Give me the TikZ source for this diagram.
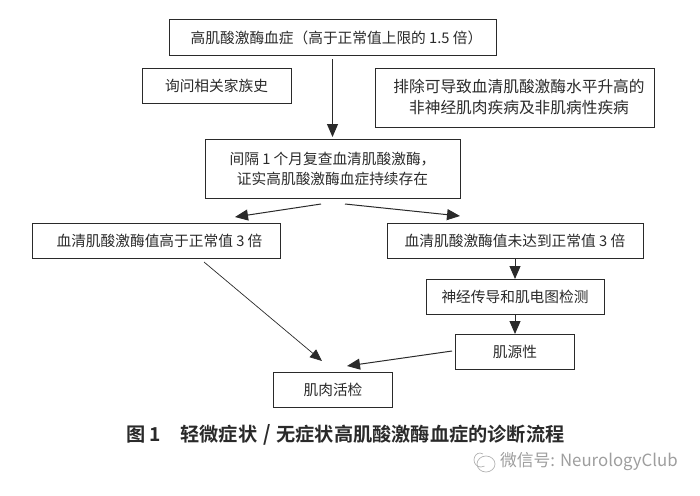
\documentclass[tikz,border=0pt]{standalone}
\usepackage{fontspec}
\setmainfont{Noto Sans CJK SC}[Scale=1]
\newfontfamily\cjkbold{Noto Sans CJK SC Bold}
\usetikzlibrary{arrows.meta}
\definecolor{ink}{HTML}{2A2A2A}
\tikzset{
  flowbox/.style={draw=ink,line width=1pt,rectangle,text=ink,font=\fontsize{14.7}{20}\selectfont,align=center,inner sep=0pt},
  flowarrow/.style={draw=ink,line width=1pt,-{Triangle[length=13pt,width=11pt]}},
  thinarrow/.style={draw=ink,line width=0.7pt,-{Triangle[length=12pt,width=10pt]}},
}
\begin{document}
\begin{tikzpicture}[x=1pt,y=-1pt]
\useasboundingbox (0,0) rectangle (700,495);
\node[flowbox,minimum width=327pt,minimum height=35pt] (top) at (332.5,37.5) {\hspace*{8pt}高肌酸激酶血症（高于正常值上限的 1.5 倍）};
\node[flowbox,minimum width=149pt,minimum height=35pt] (hist) at (216.5,85.5) {询问相关家族史};
\node[flowbox,minimum width=279pt,minimum height=59pt,font=\fontsize{15.7}{21}\selectfont] (excl) at (514.5,97.5) {\hspace*{9pt}排除可导致血清肌酸激酶水平升高的\\\hspace*{9pt}非神经肌肉疾病及非肌病性疾病};
\node[flowbox,minimum width=255pt,minimum height=59pt] (recheck) at (332.5,168.5) {间隔 1 个月复查血清肌酸激酶，\\证实高肌酸激酶血症持续存在};
\node[flowbox,minimum width=248pt,minimum height=35pt] (high) at (156,240.5) {\hspace*{7pt}血清肌酸激酶值高于正常值 3 倍};
\node[flowbox,minimum width=256pt,minimum height=35pt] (low) at (515,240.5) {血清肌酸激酶值未达到正常值 3 倍};
\node[flowbox,minimum width=178pt,minimum height=35pt] (emg) at (515,297) {神经传导和肌电图检测};
\node[flowbox,minimum width=119pt,minimum height=35pt] (myo) at (515,352) {肌源性};
\node[flowbox,minimum width=119pt,minimum height=35pt] (biopsy) at (333,390) {肌肉活检};
\coordinate (a1) at (332.5,59);
\coordinate (a2) at (332.5,137);
\draw[flowarrow] (a1) -- (a2);
\coordinate (b1) at (321,204);
\coordinate (b2) at (235,217);
\draw[flowarrow] (b1) -- (b2);
\coordinate (c1) at (345,204);
\coordinate (c2) at (460,216);
\draw[flowarrow] (c1) -- (c2);
\coordinate (d1) at (204,262);
\coordinate (d2) at (322,361);
\draw[thinarrow] (d1) -- (d2);
\draw[flowarrow] (low) -- (emg);
\draw[flowarrow] (emg) -- (myo);
\coordinate (e1) at (452,351);
\coordinate (e2) at (347,366);
\draw[flowarrow] (e1) -- (e2);
\node[text=ink,anchor=center,font=\cjkbold\fontsize{19.2}{22}\selectfont] (cap) at (345.5,435) {图 1\hspace{1em}轻微症状\makebox[1em]{\scalebox{1}[1.1]{/}}无症状高肌酸激酶血症的诊断流程};
\node[text=black!38,anchor=east,font=\fontsize{16.8}{18}\selectfont,inner sep=0pt] (wm) at (678,462) {微信号: NeurologyClub};
\draw[black!30,line width=0.7pt] (486,464) ellipse (9pt and 8pt);
\draw[black!30,line width=0.7pt] (474,460) arc (180:300:7pt);
\draw[black!30,line width=0.7pt] (474,460) arc (180:60:6pt and 7pt);
\end{tikzpicture}
\end{document}
